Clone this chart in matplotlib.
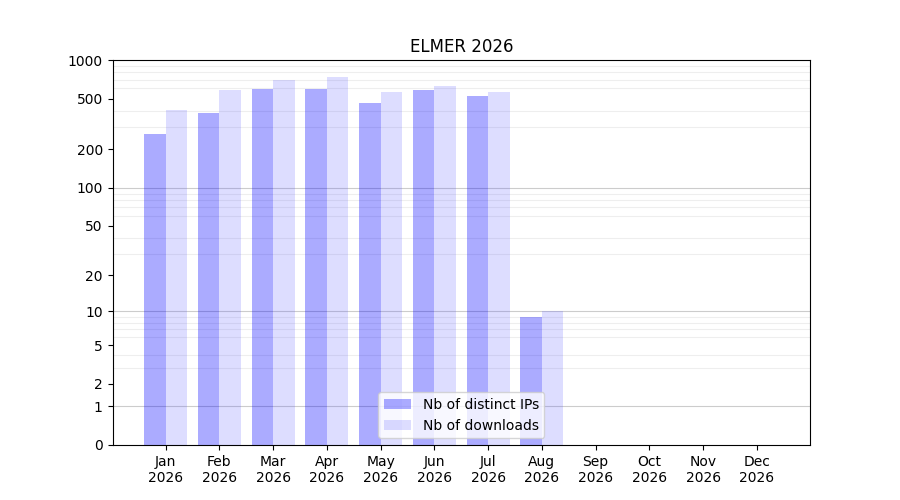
import numpy as np
import matplotlib.pyplot as plt
from matplotlib.ticker import FixedLocator, FixedFormatter

months = ["Jan", "Feb", "Mar", "Apr", "May", "Jun", "Jul", "Aug", "Sep", "Oct", "Nov", "Dec"]
year = "2026"
distinct_ips = [262, 387, 592, 592, 461, 582, 522, 9, 0, 0, 0, 0]
downloads = [406, 582, 697, 736, 561, 626, 561, 10, 0, 0, 0, 0]

ytick_vals = [0, 1, 2, 5, 10, 20, 50, 100, 200, 500, 1000]
minor_vals = [m * 10 ** e for e in range(0, 3) for m in range(2, 10)]


def fwd(y):
    return np.log10(1 + np.clip(y, 0, None))


def inv(y):
    return 10 ** y - 1


fig, ax = plt.subplots(figsize=(9, 5), dpi=100)
x = np.arange(len(months))
w = 0.4
ax.bar(x - w / 2, distinct_ips, w, color="blue", alpha=0.33, label="Nb of distinct IPs")
ax.bar(x + w / 2, downloads, w, color="#5555ff", alpha=0.2, label="Nb of downloads")

ax.set_yscale("function", functions=(fwd, inv))
ax.set_ylim(0, 1000)
ax.yaxis.set_major_locator(FixedLocator(ytick_vals))
ax.yaxis.set_major_formatter(FixedFormatter([str(v) for v in ytick_vals]))
ax.yaxis.set_minor_locator(FixedLocator(minor_vals))
ax.tick_params(axis="y", which="minor", length=0)

for v in [1, 10, 100]:
    ax.axhline(v, color="gray", alpha=0.4, linewidth=0.8, zorder=0)
ax.grid(axis="y", which="minor", color="#eeeeee", linewidth=0.8, zorder=0)
ax.set_axisbelow(True)

ax.set_xticks(x)
ax.set_xticklabels([m + "\n" + year for m in months])
ax.set_title("ELMER 2026")
ax.legend(loc="lower center")

plt.savefig("out.png")
